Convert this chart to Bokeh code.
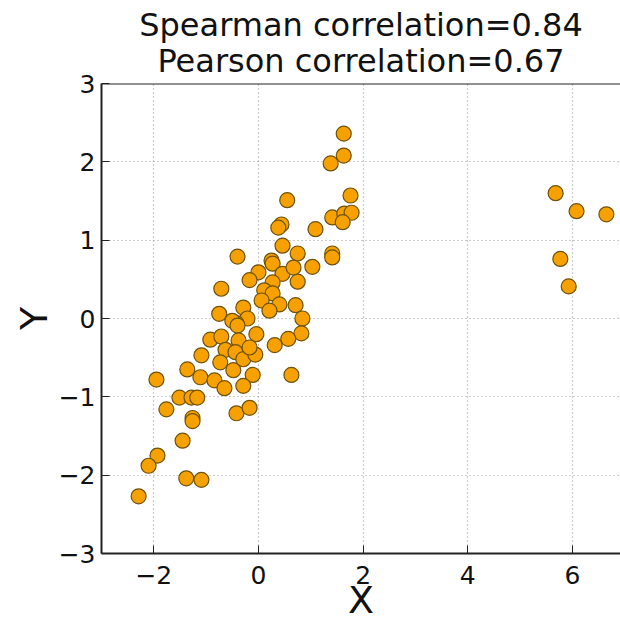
from bokeh.plotting import figure
from bokeh.models import Range1d, Title, FixedTicker, Span
from bokeh.embed import file_html
from bokeh.resources import INLINE

# ---- data ----
x_vals = [
    5.68, 6.08, 6.65, 5.77, 5.93,
    1.63, 1.63, 1.38, 1.76, 0.55, 1.41, 1.64, 1.78, 1.61, 0.44, 0.38, 1.09,
    0.46, 0.75, 1.41, 1.41, 1.03, -0.40, 0.25, 0.27, 0.00, 0.46, 0.67, -0.17,
    0.75, 0.27, -0.71, 0.11, 0.27, 0.06, 0.40, 0.71, -0.29, 0.21, -0.75,
    -0.21, 0.84, -0.42, -0.04, -0.50, -0.40, 0.82, 0.57, 0.31, -0.38, -0.92,
    -0.71, -0.63, -0.44, -0.73, -0.48, -0.11, -0.29, -0.06, -0.17, 0.63,
    -1.09, -1.36, -1.11, -0.84, -0.65, -0.29, -0.42, -0.17, -1.95, -1.51,
    -1.28, -1.17, -1.26, -1.26, -1.76, -1.45, -1.93, -2.10, -2.29, -1.38, -1.09,
]
y_vals = [
    1.60, 1.37, 1.33, 0.76, 0.41,
    2.36, 2.08, 1.98, 1.57, 1.51, 1.29, 1.34, 1.35, 1.23, 1.20, 1.16, 1.14,
    0.93, 0.83, 0.83, 0.78, 0.66, 0.79, 0.74, 0.70, 0.59, 0.57, 0.65, 0.49,
    0.47, 0.46, 0.38, 0.36, 0.32, 0.23, 0.18, 0.17, 0.14, 0.10, 0.06,
    0.00, 0.00, -0.06, -0.20, -0.03, -0.09, -0.19, -0.26, -0.34, -0.28, -0.27,
    -0.23, -0.40, -0.43, -0.56, -0.66, -0.72, -0.52, -0.46, -0.37, -0.72,
    -0.47, -0.65, -0.75, -0.79, -0.89, -0.86, -1.21, -1.14, -0.78, -1.01,
    -1.01, -1.01, -1.27, -1.31, -1.16, -1.56, -1.75, -1.88, -2.27, -2.04, -2.06,
]
x_ticks = [-2, 0, 2, 4, 6]
y_ticks = [-3, -2, -1, 0, 1, 2, 3]
title_lines = ["Spearman correlation=0.84", "Pearson correlation=0.67"]

FONT = "DejaVu Sans"

p = figure(width=620, height=624, output_backend="svg", toolbar_location=None,
           x_range=Range1d(-3, 6.92), y_range=Range1d(-3, 3),
           x_axis_label="X", y_axis_label="Y", title=None,
           min_border_left=101, min_border_right=0, min_border_top=83,
           min_border_bottom=71)
p.outline_line_color = None
p.background_fill_color = "white"
p.border_fill_color = "white"

# top border line of the box
p.add_layout(Span(location=max(y_ticks), dimension="width", line_color="#222222",
                  line_width=2))

for ax in p.xaxis:
    ax.ticker = FixedTicker(ticks=x_ticks)
for ax in p.yaxis:
    ax.ticker = FixedTicker(ticks=y_ticks)

for ax in list(p.xaxis) + list(p.yaxis):
    ax.axis_line_width = 2
    ax.axis_line_color = "#222222"
    ax.major_tick_in = 8
    ax.major_tick_out = 0
    ax.major_tick_line_color = "#222222"
    ax.major_tick_line_width = 1
    ax.minor_tick_line_color = None
    ax.major_label_text_font = FONT
    ax.major_label_text_font_size = "25px"
    ax.major_label_text_color = "#111111"
    ax.axis_label_text_font = FONT
    ax.axis_label_text_font_size = "38px"
    ax.axis_label_text_font_style = "normal"
    ax.axis_label_text_color = "#111111"

for ax in p.xaxis:
    ax.major_label_standoff = 12
    ax.axis_label_standoff = -9
for ax in p.yaxis:
    ax.major_label_standoff = 6
    ax.axis_label_standoff = 0

p.xgrid.ticker = FixedTicker(ticks=x_ticks)
p.ygrid.ticker = FixedTicker(ticks=y_ticks)
for g in (p.xgrid, p.ygrid):
    g.grid_line_color = "#999999"
    g.grid_line_dash = "1 3"
    g.grid_line_width = 1.2

# titles
p.add_layout(Title(text=title_lines[1], align="center", text_font=FONT,
                   text_font_size="32px", text_font_style="normal",
                   text_color="#111111", offset=0, standoff=8), "above")
p.add_layout(Title(text=title_lines[0], align="center", text_font=FONT,
                   text_font_size="32px", text_font_style="normal",
                   text_color="#111111", offset=0, standoff=-16), "above")

p.scatter(x_vals, y_vals, size=15, fill_color="#F7A100", line_color="#6E5208",
          line_width=1.2)

open("out.html", "w").write(file_html(p, INLINE))
